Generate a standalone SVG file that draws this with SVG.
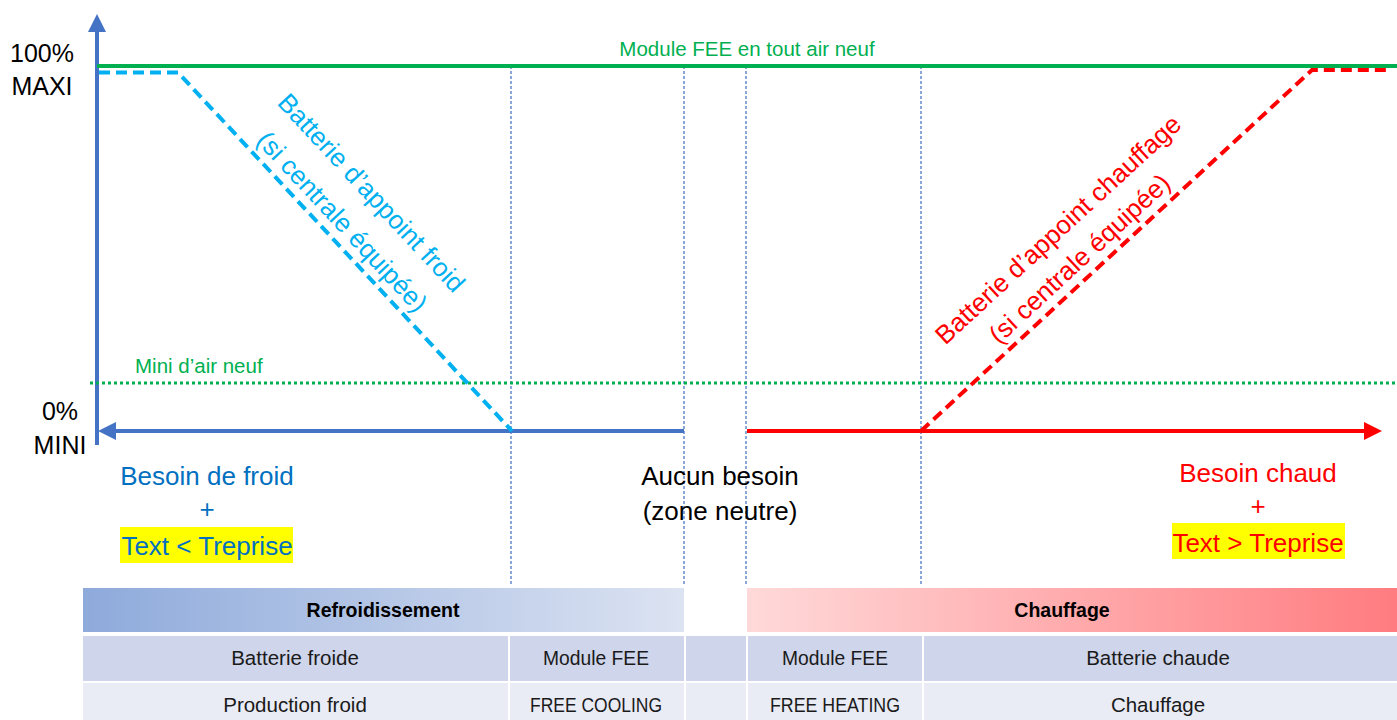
<svg xmlns="http://www.w3.org/2000/svg" width="1397" height="720" viewBox="0 0 1397 720">
<style>
text{font-family:"Liberation Sans",Arial,sans-serif}
.big{font-size:26px}
.axl{font-size:25px;fill:#000;text-anchor:middle}
.cell{font-size:20.5px;fill:#1a1a1a;text-anchor:middle}
.hdr{font-size:19.5px;font-weight:bold;fill:#000;text-anchor:middle}
.guide{stroke:#3F6CC0;stroke-width:1.2;stroke-dasharray:3,2;fill:none}
</style>
<defs>
<marker id="ahB" viewBox="0 0 10 10" refX="0" refY="5" markerWidth="4.5" markerHeight="5" orient="auto" markerUnits="strokeWidth"><path d="M0,0 L10,5 L0,10 z" fill="#4472C4"/></marker>
<marker id="ahR" viewBox="0 0 10 10" refX="0" refY="5" markerWidth="4.5" markerHeight="5" orient="auto" markerUnits="strokeWidth"><path d="M0,0 L10,5 L0,10 z" fill="#FF0000"/></marker>
<linearGradient id="gCold" x1="0" y1="0" x2="1" y2="0"><stop offset="0" stop-color="#8EAADB"/><stop offset="1" stop-color="#DCE3F2"/></linearGradient>
<linearGradient id="gHot" x1="0" y1="0" x2="1" y2="0"><stop offset="0" stop-color="#FFD9D9"/><stop offset="1" stop-color="#FF7C80"/></linearGradient>
</defs>
<rect width="1397" height="720" fill="#fff"/>

<g id="guides">
<line class="guide" x1="511" y1="66" x2="511" y2="586"/>
<line class="guide" x1="684" y1="66" x2="684" y2="586"/>
<line class="guide" x1="746" y1="66" x2="746" y2="586"/>
<line class="guide" x1="921" y1="66" x2="921" y2="586"/>
</g>

<g id="connectors">
<line x1="97" y1="445" x2="97" y2="32" stroke="#4472C4" stroke-width="4" marker-end="url(#ahB)"/>
<line x1="97" y1="66" x2="1397" y2="66" stroke="#00B050" stroke-width="4"/>
<line x1="90" y1="383" x2="1397" y2="383" stroke="#00B050" stroke-width="3" stroke-dasharray="3,3"/>
<line x1="684" y1="431" x2="116" y2="431" stroke="#4472C4" stroke-width="4" marker-end="url(#ahB)"/>
<line x1="747" y1="431" x2="1364" y2="431" stroke="#FF0000" stroke-width="4" marker-end="url(#ahR)"/>
<polyline points="99,72.5 178,72.5 512,431" fill="none" stroke="#00B0F0" stroke-width="4" stroke-dasharray="11,6"/>
<polyline points="921,431 1312,70 1386,70" fill="none" stroke="#FF0000" stroke-width="4" stroke-dasharray="11,6"/>
</g>

<g id="axis-labels">
<text class="axl" x="42" y="62">100%</text>
<text class="axl" x="42" y="95">MAXI</text>
<text class="axl" x="60" y="420">0%</text>
<text class="axl" x="60" y="454">MINI</text>
</g>

<g id="label-module">
<text x="747" y="56" font-size="20.5" fill="#00B050" text-anchor="middle">Module FEE en tout air neuf</text>
</g>
<g id="label-mini">
<text x="135" y="373" font-size="20.5" fill="#00B050">Mini d’air neuf</text>
</g>

<g id="label-froid-battery" fill="#00B0F0" font-size="26" text-anchor="middle">
<text transform="translate(365,199) rotate(47)">Batterie d’appoint froid</text>
<text transform="translate(365,199) rotate(47)" x="1" y="41">(si centrale équipée)</text>
</g>

<g id="label-chaud-battery" fill="#FF0000" font-size="26" text-anchor="middle">
<text transform="translate(1064,236) rotate(-42.7)">Batterie d’appoint chauffage</text>
<text transform="translate(1064,236) rotate(-42.7)" x="-4" y="36">(si centrale équipée)</text>
</g>

<g id="besoin-froid" fill="#0070C0" text-anchor="middle">
<text class="big" x="207" y="485">Besoin de froid</text>
<text class="big" x="207" y="518">+</text>
<rect x="120" y="527" width="173" height="36" fill="#FFFF00"/>
<text class="big" x="207" y="555">Text &lt; Treprise</text>
</g>

<g id="aucun-besoin" fill="#000" text-anchor="middle">
<text class="big" x="720" y="485">Aucun besoin</text>
<text class="big" x="720" y="520">(zone neutre)</text>
</g>

<g id="besoin-chaud" fill="#FF0000" text-anchor="middle">
<text class="big" x="1258" y="482">Besoin chaud</text>
<text class="big" x="1258" y="515">+</text>
<rect x="1172" y="523" width="173" height="36" fill="#FFFF00"/>
<text class="big" x="1258" y="552">Text &gt; Treprise</text>
</g>

<g id="table">
<rect x="83" y="588" width="601" height="44" fill="url(#gCold)"/>
<text class="hdr" x="383" y="617">Refroidissement</text>
<rect x="747" y="588" width="650" height="44" fill="url(#gHot)"/>
<text class="hdr" x="1062" y="617">Chauffage</text>

<rect x="83" y="636" width="425" height="45" fill="#CFD5EA"/>
<rect x="510" y="636" width="174" height="45" fill="#CFD5EA"/>
<rect x="686" y="636" width="60" height="45" fill="#CFD5EA"/>
<rect x="748" y="636" width="174" height="45" fill="#CFD5EA"/>
<rect x="924" y="636" width="473" height="45" fill="#CFD5EA"/>

<rect x="83" y="683" width="425" height="37" fill="#E9EBF5"/>
<rect x="510" y="683" width="174" height="37" fill="#E9EBF5"/>
<rect x="686" y="683" width="60" height="37" fill="#E9EBF5"/>
<rect x="748" y="683" width="174" height="37" fill="#E9EBF5"/>
<rect x="924" y="683" width="473" height="37" fill="#E9EBF5"/>

<text class="cell" x="295" y="665">Batterie froide</text>
<text class="cell" x="596" y="665" textLength="106" lengthAdjust="spacingAndGlyphs">Module FEE</text>
<text class="cell" x="835" y="665" textLength="106" lengthAdjust="spacingAndGlyphs">Module FEE</text>
<text class="cell" x="1158" y="665">Batterie chaude</text>
<text class="cell" x="295" y="712">Production froid</text>
<text class="cell" x="596" y="712" textLength="132" lengthAdjust="spacingAndGlyphs">FREE COOLING</text>
<text class="cell" x="835" y="712" textLength="130" lengthAdjust="spacingAndGlyphs">FREE HEATING</text>
<text class="cell" x="1158" y="712">Chauffage</text>
</g>
</svg>
